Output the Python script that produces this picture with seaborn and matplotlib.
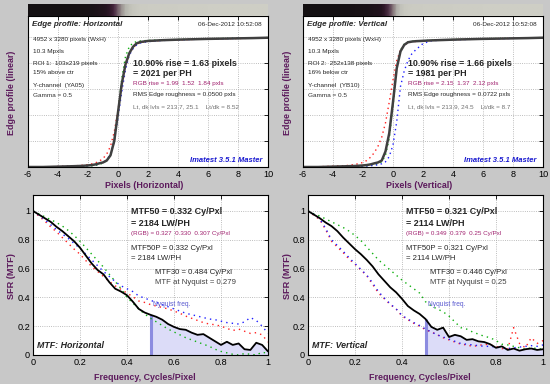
import numpy as np
import pandas as pd
import matplotlib
matplotlib.use("Agg")
import matplotlib.pyplot as plt
from matplotlib.colors import LinearSegmentedColormap
import seaborn as sns

# ---------------- data ----------------
edge_x = [-6, -5, -4, -3, -2.5, -2, -1.75, -1.5, -1.25, -1, -0.75, -0.5, -0.25, 0,
          0.25, 0.5, 0.75, 1, 1.25, 1.5, 2, 2.5, 3, 4, 5, 6, 7, 8, 9, 10]

eh_k = [0.0, 0.0, 0.003, 0.006, 0.008, 0.012, 0.015, 0.02, 0.028, 0.035, 0.05, 0.09, 0.2, 0.42,
        0.64, 0.79, 0.875, 0.925, 0.952, 0.962, 0.97, 0.973, 0.976, 0.98, 0.983, 0.986, 0.988, 0.99, 0.992, 0.995]
eh_r = [0.0, 0.0, 0.004, 0.008, 0.012, 0.018, 0.024, 0.032, 0.045, 0.065, 0.1, 0.16, 0.27, 0.44,
        0.62, 0.77, 0.87, 0.92, 0.945, 0.958, 0.967, 0.971, 0.975, 0.979, 0.982, 0.985, 0.987, 0.989, 0.991, 0.994]
eh_g = [0.0, 0.0, 0.002, 0.004, 0.005, 0.007, 0.009, 0.012, 0.02, 0.03, 0.05, 0.09, 0.2, 0.42,
        0.68, 0.85, 0.925, 0.955, 0.965, 0.97, 0.974, 0.976, 0.978, 0.981, 0.984, 0.987, 0.989, 0.991, 0.993, 0.996]
eh_b = [0.0, 0.0, 0.003, 0.005, 0.007, 0.01, 0.012, 0.016, 0.024, 0.035, 0.055, 0.1, 0.2, 0.38,
        0.58, 0.75, 0.86, 0.91, 0.94, 0.955, 0.965, 0.97, 0.974, 0.978, 0.982, 0.985, 0.987, 0.99, 0.992, 0.994]

ev_k = [0.0, 0.0, 0.003, 0.006, 0.008, 0.012, 0.015, 0.02, 0.028, 0.035, 0.05, 0.12, 0.26, 0.5,
        0.76, 0.89, 0.94, 0.96, 0.965, 0.968, 0.971, 0.974, 0.976, 0.98, 0.983, 0.986, 0.988, 0.99, 0.992, 0.995]
ev_r = [0.0, 0.002, 0.006, 0.012, 0.02, 0.035, 0.05, 0.075, 0.11, 0.16, 0.23, 0.34, 0.5, 0.67,
        0.82, 0.9, 0.94, 0.955, 0.962, 0.966, 0.97, 0.973, 0.976, 0.98, 0.983, 0.986, 0.988, 0.99, 0.992, 0.995]
ev_g = [0.0, 0.0, 0.002, 0.004, 0.006, 0.008, 0.01, 0.013, 0.018, 0.025, 0.04, 0.09, 0.22, 0.47,
        0.76, 0.9, 0.945, 0.962, 0.967, 0.97, 0.972, 0.975, 0.977, 0.981, 0.984, 0.987, 0.989, 0.991, 0.993, 0.996]
ev_b = [0.0, 0.0, 0.002, 0.004, 0.005, 0.007, 0.008, 0.01, 0.013, 0.017, 0.025, 0.04, 0.08, 0.17,
        0.35, 0.62, 0.74, 0.82, 0.87, 0.9, 0.95, 0.97, 0.975, 0.979, 0.982, 0.985, 0.987, 0.99, 0.992, 0.994]

freq = [0.0, 0.025, 0.05, 0.075, 0.1, 0.125, 0.15, 0.175, 0.2, 0.225, 0.25, 0.275, 0.3, 0.325,
        0.35, 0.375, 0.4, 0.425, 0.45, 0.475, 0.5, 0.525, 0.55, 0.575, 0.6, 0.625, 0.65, 0.675,
        0.7, 0.725, 0.75, 0.775, 0.8, 0.825, 0.85, 0.875, 0.9, 0.925, 0.95, 0.975, 1.0]

mh_k = [1.0, 0.975, 0.95, 0.925, 0.89, 0.86, 0.825, 0.79, 0.745, 0.69, 0.635, 0.59, 0.56, 0.505,
        0.46, 0.44, 0.415, 0.37, 0.32, 0.295, 0.279, 0.265, 0.245, 0.215, 0.195, 0.18, 0.175, 0.155,
        0.14, 0.145, 0.12, 0.095, 0.07, 0.092, 0.07, 0.08, 0.04, 0.035, 0.085, 0.07, 0.025]
mh_r = [1.0, 0.965, 0.93, 0.89, 0.855, 0.815, 0.775, 0.735, 0.70, 0.655, 0.615, 0.58, 0.545, 0.51,
        0.48, 0.455, 0.43, 0.405, 0.375, 0.365, 0.35, 0.34, 0.33, 0.32, 0.305, 0.29, 0.27, 0.255,
        0.24, 0.225, 0.215, 0.21, 0.20, 0.185, 0.17, 0.18, 0.165, 0.15, 0.155, 0.14, 0.09]
mh_g = [1.0, 0.98, 0.96, 0.94, 0.92, 0.895, 0.865, 0.83, 0.79, 0.745, 0.70, 0.655, 0.61, 0.56,
        0.51, 0.46, 0.40, 0.36, 0.32, 0.285, 0.255, 0.23, 0.205, 0.18, 0.16, 0.14, 0.12, 0.105,
        0.09, 0.075, 0.06, 0.04, 0.025, 0.015, 0.005, 0.0, 0.01, 0.005, 0.0, 0.02, 0.01]
mh_b = [1.0, 0.97, 0.94, 0.905, 0.87, 0.84, 0.81, 0.775, 0.74, 0.70, 0.66, 0.62, 0.58, 0.545,
        0.51, 0.48, 0.46, 0.44, 0.41, 0.395, 0.38, 0.365, 0.35, 0.335, 0.32, 0.305, 0.29, 0.28,
        0.27, 0.26, 0.25, 0.245, 0.235, 0.225, 0.22, 0.215, 0.23, 0.26, 0.24, 0.2, 0.15]

mv_k = [1.0, 0.975, 0.95, 0.92, 0.895, 0.86, 0.815, 0.775, 0.735, 0.70, 0.66, 0.615, 0.56, 0.515,
        0.47, 0.435, 0.39, 0.34, 0.31, 0.285, 0.25, 0.195, 0.175, 0.19, 0.125, 0.14, 0.13, 0.105,
        0.11, 0.095, 0.09, 0.075, 0.05, 0.06, 0.035, 0.045, 0.03, 0.04, 0.045, 0.035, 0.04]
mv_g = [1.0, 0.98, 0.965, 0.945, 0.925, 0.905, 0.885, 0.86, 0.83, 0.795, 0.75, 0.705, 0.66, 0.625,
        0.59, 0.555, 0.52, 0.49, 0.46, 0.43, 0.37, 0.34, 0.32, 0.30, 0.27, 0.23, 0.19, 0.18,
        0.16, 0.145, 0.13, 0.12, 0.10, 0.075, 0.07, 0.06, 0.05, 0.04, 0.05, 0.045, 0.04]
mv_r = [1.0, 0.97, 0.94, 0.87, 0.79, 0.75, 0.71, 0.665, 0.63, 0.59, 0.55, 0.49, 0.43, 0.39,
        0.35, 0.32, 0.27, 0.245, 0.22, 0.2, 0.175, 0.16, 0.14, 0.12, 0.105, 0.09, 0.075, 0.07,
        0.06, 0.065, 0.075, 0.07, 0.06, 0.045, 0.04, 0.19, 0.08, 0.05, 0.12, 0.08, 0.1]
mv_b = [1.0, 0.975, 0.945, 0.88, 0.80, 0.76, 0.72, 0.675, 0.635, 0.595, 0.555, 0.50, 0.44, 0.395,
        0.355, 0.32, 0.275, 0.25, 0.225, 0.205, 0.18, 0.16, 0.14, 0.125, 0.11, 0.095, 0.08, 0.075,
        0.07, 0.065, 0.06, 0.06, 0.055, 0.05, 0.045, 0.05, 0.055, 0.06, 0.065, 0.06, 0.07]

edge_ticks = [-6, -4, -2, 0, 2, 4, 6, 8, 10]
mtf_ticks = [0, 0.2, 0.4, 0.6, 0.8, 1]
mtf_tick_labels = ["0", "0.2", "0.4", "0.6", "0.8", "1"]

# ---------------- style ----------------
sns.set_style("white")
plt.rcParams['font.family'] = ['Liberation Sans', 'DejaVu Sans']

W, H = 550, 384
BG = '#c8c8c8'
PURPLE = '#5c1a5c'
MAG = '#a0206e'
fig = plt.figure(figsize=(W / 100, H / 100), dpi=100)
fig.patch.set_facecolor(BG)


def rect(l, t, r, b):
    return [l / W, 1 - b / H, (r - l) / W, (b - t) / H]


def ftext(x, y, s, **kw):
    kw.setdefault('va', 'center')
    kw.setdefault('ha', 'left')
    fig.text(x / W, 1 - y / H, s, **kw)


strip_cmap = LinearSegmentedColormap.from_list(
    'edge', [(0, '#141012'), (0.06, '#2a1424'), (0.2, '#4a2a42'),
             (0.5, '#847478'), (0.8, '#b6b6ae'), (1, '#cfcfc6')])


def style_axes(ax):
    ax.set_facecolor('white')
    for s in ax.spines.values():
        s.set_color('black')
        s.set_linewidth(0.8)
    ax.tick_params(direction='in', top=True, right=True, length=3, width=0.6,
                   labelsize=6.6, colors='black', pad=2)
    ax.grid(True, linestyle=':', color='#a8a8a8', linewidth=0.6)


SMALL = 4.6


def edge_panel(x0, prof_k, prof_r, prof_g, prof_b, info):
    ax = fig.add_axes(rect(x0, 16, x0 + 240, 167))
    style_axes(ax)
    dfk = pd.DataFrame({'x': edge_x, 'y': prof_k})
    for prof, c in [(prof_r, '#ff2020'), (prof_g, '#10b010'), (prof_b, '#2020ff')]:
        sns.lineplot(x=edge_x, y=prof, ax=ax, color=c, linestyle=(0, (1, 2.5)),
                     linewidth=1.0, estimator=None, sort=False)
    sns.lineplot(data=dfk, x='x', y='y', ax=ax, color='#404040', linewidth=1.8,
                 estimator=None, sort=False)
    ax.set_xlim(-6, 10)
    ax.set_ylim(0, 1.162)
    ax.set_xticks(edge_ticks)
    ax.set_xticklabels([str(t) for t in edge_ticks])
    ax.set_yticks([0, 0.2, 0.4, 0.6, 0.8, 1.0])
    ax.set_yticklabels([])
    ax.set_xlabel('')
    ax.set_ylabel('')
    # edge image strip
    sax = fig.add_axes(rect(x0, 4, x0 + 240, 16))
    X = np.array([edge_x, edge_x])
    Y = np.array([[0] * len(edge_x), [1] * len(edge_x)])
    C = np.array([prof_k, prof_k])
    sax.pcolormesh(X, Y, C, shading='gouraud', cmap=strip_cmap, vmin=0, vmax=1)
    sax.set_xlim(-6, 10)
    sax.set_ylim(0, 1)
    sax.axis('off')
    # texts
    ftext(x0 + 4, 25, info['title'], fontsize=5.8, fontweight='bold', style='italic')
    ftext(x0 + 234, 25, '06-Dec-2012 10:52:08', fontsize=4.6, ha='right')
    ftext(x0 + 5, 40, '4952 x 3280 pixels (WxH)', fontsize=SMALL)
    ftext(x0 + 5, 51, '10.3 Mpxls', fontsize=SMALL)
    ftext(x0 + 5, 64, info['roi'], fontsize=SMALL)
    ftext(x0 + 5, 73, info['pos'], fontsize=SMALL)
    ftext(x0 + 5, 86, info['chan'], fontsize=SMALL)
    ftext(x0 + 5, 95.5, 'Gamma = 0.5', fontsize=SMALL, color='#303030')
    ftext(x0 + 105, 63, info['rise'], fontsize=6.4, fontweight='bold')
    ftext(x0 + 105, 73, info['ph'], fontsize=6.4, fontweight='bold')
    ftext(x0 + 105, 83, info['rgb'], fontsize=SMALL, color=MAG)
    ftext(x0 + 105, 94.5, info['rms'], fontsize=SMALL)
    ftext(x0 + 105, 107, info['lvl'], fontsize=SMALL, color='#707070')
    ftext(x0 + 234, 161, 'Imatest 3.5.1 Master', fontsize=5.5, fontweight='bold',
          style='italic', color='#1a1ad0', ha='right')
    ftext(x0 + 116, 186, info['xlabel'], fontsize=6.4, fontweight='bold', color=PURPLE, ha='center')
    fig.text((x0 - 16) / W, 1 - 93 / H, 'Edge profile (linear)', rotation=90, fontsize=6.4,
             fontweight='bold', color=PURPLE, ha='center', va='center')
    return ax


def mtf_panel(x0, k, r, g, b, nyq, info):
    ax = fig.add_axes(rect(x0, 195, x0 + 235, 355))
    style_axes(ax)
    fx = np.array(freq)
    kk = np.array(k)
    m = fx >= 0.5
    ax.fill_between(fx[m], 0, kk[m], color='#dcdcf8', linewidth=0)
    ax.vlines(0.5, 0, nyq, color='#8c8ce0', linewidth=2.2)
    for prof, c in [(r, '#ff2020'), (g, '#10b010'), (b, '#2020ff')]:
        sns.lineplot(x=freq, y=prof, ax=ax, color=c, linestyle=(0, (1, 3)),
                     linewidth=1.0, estimator=None, sort=False)
    sns.lineplot(x=freq, y=k, ax=ax, color='black', linewidth=1.3,
                 estimator=None, sort=False)
    ax.set_xlim(0, 1)
    ax.set_ylim(0, 1.111)
    ax.set_xticks(mtf_ticks)
    ax.set_xticklabels(mtf_tick_labels)
    ax.set_yticks(mtf_ticks)
    ax.set_yticklabels(mtf_tick_labels)
    ax.set_xlabel('')
    ax.set_ylabel('')
    ftext(x0 + 98, 212, info['m50'], fontsize=6.5, fontweight='bold')
    ftext(x0 + 98, 223, info['lw'], fontsize=6.5, fontweight='bold')
    ftext(x0 + 98, 233.5, info['rgb'], fontsize=4.5, color=MAG)
    ftext(x0 + 98, 248, info['m50p'], fontsize=5.6)
    ftext(x0 + 98, 259, info['lwp'], fontsize=5.6)
    ftext(x0 + 122, 272, info['m30'], fontsize=5.6)
    ftext(x0 + 122, 283, info['nyq'], fontsize=5.6, color='#404040')
    ftext(x0 + 120, 304, 'Nyquist freq.', fontsize=4.8, color='#5a5ad0')
    ftext(x0 + 4, 345, info['title'], fontsize=6.4, fontweight='bold', style='italic')
    ftext(x0 + 111.5, 377, 'Frequency, Cycles/Pixel', fontsize=6.4, fontweight='bold',
          color=PURPLE, ha='center')
    fig.text((x0 - 21) / W, 1 - 276 / H, 'SFR (MTF)', rotation=90, fontsize=6.6,
             fontweight='bold', color=PURPLE, ha='center', va='center')
    return ax


edge_panel(28, eh_k, eh_r, eh_g, eh_b, dict(
    title='Edge profile: Horizontal', roi='ROI 1:  103x219 pixels', pos='15% above ctr',
    chan='Y-channel  (YA05)', rise='10.90% rise = 1.63 pixels', ph='= 2021 per PH',
    rgb='RGB rise = 1.99  1.52  1.84 pxls', rms='RMS Edge roughness = 0.0500 pxls',
    lvl='Lt, dk lvls = 213.7, 25.1    Lt/dk = 8.52', xlabel='Pixels (Horizontal)'))
edge_panel(303, ev_k, ev_r, ev_g, ev_b, dict(
    title='Edge profile: Vertical', roi='ROI 2:  252x138 pixels', pos='16% below ctr',
    chan='Y-channel  (YB10)', rise='10.90% rise = 1.66 pixels', ph='= 1981 per PH',
    rgb='RGB rise = 2.15  1.37  2.12 pxls', rms='RMS Edge roughness = 0.0722 pxls',
    lvl='Lt, dk lvls = 213.9, 24.5    Lt/dk = 8.7', xlabel='Pixels (Vertical)'))

mtf_panel(33, mh_k, mh_r, mh_g, mh_b, 0.279, dict(
    m50='MTF50 = 0.332 Cy/Pxl', lw='= 2184 LW/PH', rgb='(RGB) = 0.327  0.330  0.307 Cy/Pxl',
    m50p='MTF50P = 0.332 Cy/Pxl', lwp='= 2184 LW/PH', m30='MTF30 = 0.484 Cy/Pxl',
    nyq='MTF at Nyquist = 0.279', title='MTF: Horizontal'))
mtf_panel(308, mv_k, mv_r, mv_g, mv_b, 0.25, dict(
    m50='MTF50 = 0.321 Cy/Pxl', lw='= 2114 LW/PH', rgb='(RGB) = 0.349  0.379  0.25 Cy/Pxl',
    m50p='MTF50P = 0.321 Cy/Pxl', lwp='= 2114 LW/PH', m30='MTF30 = 0.446 Cy/Pxl',
    nyq='MTF at Nyquist = 0.25', title='MTF: Vertical'))

fig.savefig('out.png', dpi=100, facecolor=BG)
